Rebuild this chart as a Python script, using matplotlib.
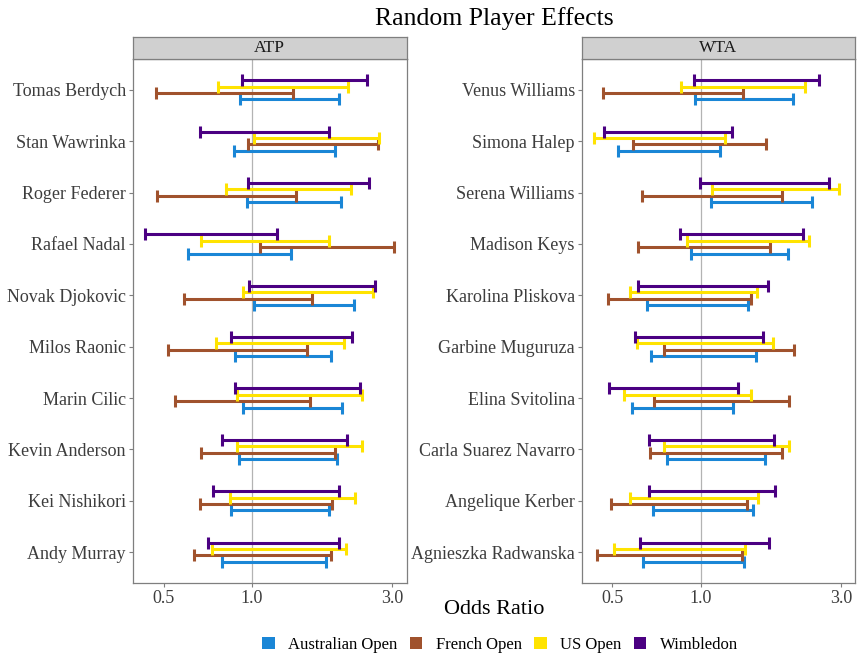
import numpy as np
import matplotlib
matplotlib.use("Agg")
import matplotlib.pyplot as plt
from matplotlib.patches import Patch

plt.rcParams['font.family'] = ['Liberation Serif', 'DejaVu Serif']

tournaments = ["Australian Open", "French Open", "US Open", "Wimbledon"]
colors = ["#1a86d6", "#a0522d", "#ffe300", "#4b0082"]

# players listed bottom -> top
atp_players = ["Andy Murray", "Kei Nishikori", "Kevin Anderson", "Marin Cilic", "Milos Raonic",
               "Novak Djokovic", "Rafael Nadal", "Roger Federer", "Stan Wawrinka", "Tomas Berdych"]
wta_players = ["Agnieszka Radwanska", "Angelique Kerber", "Carla Suarez Navarro", "Elina Svitolina",
               "Garbine Muguruza", "Karolina Pliskova", "Madison Keys", "Serena Williams",
               "Simona Halep", "Venus Williams"]

# lower / upper bounds of odds ratio per tournament, same order as players
atp_ao_lo = [0.789, 0.846, 0.901, 0.934, 0.873, 1.013, 0.605, 0.959, 0.871, 0.908]
atp_ao_hi = [1.783, 1.825, 1.943, 2.020, 1.854, 2.229, 1.352, 2.014, 1.913, 1.982]
atp_fo_lo = [0.634, 0.664, 0.671, 0.548, 0.516, 0.586, 1.067, 0.476, 0.966, 0.470]
atp_fo_hi = [1.863, 1.873, 1.917, 1.580, 1.544, 1.598, 3.047, 1.413, 2.683, 1.384]
atp_us_lo = [0.733, 0.839, 0.891, 0.889, 0.755, 0.932, 0.669, 0.816, 1.018, 0.768]
atp_us_hi = [2.084, 2.241, 2.373, 2.367, 2.052, 2.574, 1.833, 2.177, 2.710, 2.127]
atp_wi_lo = [0.709, 0.739, 0.793, 0.873, 0.846, 0.979, 0.434, 0.972, 0.664, 0.922]
atp_wi_hi = [1.982, 1.973, 2.101, 2.330, 2.190, 2.620, 1.212, 2.494, 1.825, 2.456]

wta_ao_lo = [0.635, 0.689, 0.769, 0.581, 0.678, 0.655, 0.925, 1.087, 0.522, 0.954]
wta_ao_hi = [1.405, 1.507, 1.656, 1.289, 1.543, 1.453, 1.976, 2.398, 1.160, 2.055]
wta_fo_lo = [0.444, 0.494, 0.673, 0.690, 0.751, 0.484, 0.611, 0.629, 0.587, 0.464]
wta_fo_hi = [1.379, 1.441, 1.891, 1.998, 2.072, 1.484, 1.717, 1.896, 1.664, 1.389]
wta_us_lo = [0.508, 0.572, 0.751, 0.546, 0.604, 0.572, 0.894, 1.090, 0.433, 0.853]
wta_us_hi = [1.416, 1.567, 1.998, 1.479, 1.757, 1.555, 2.337, 2.955, 1.210, 2.265]
wta_wi_lo = [0.620, 0.666, 0.666, 0.485, 0.595, 0.609, 0.848, 0.990, 0.469, 0.947]
wta_wi_hi = [1.703, 1.785, 1.777, 1.340, 1.634, 1.699, 2.235, 2.733, 1.279, 2.534]

x_ticks = [0.5, 1.0, 3.0]
x_tick_labels = ["0.5", "1.0", "3.0"]

atp_lo = [atp_ao_lo, atp_fo_lo, atp_us_lo, atp_wi_lo]
atp_hi = [atp_ao_hi, atp_fo_hi, atp_us_hi, atp_wi_hi]
wta_lo = [wta_ao_lo, wta_fo_lo, wta_us_lo, wta_wi_lo]
wta_hi = [wta_ao_hi, wta_fo_hi, wta_us_hi, wta_wi_hi]

allv = np.log(np.concatenate([np.ravel(atp_lo), np.ravel(atp_hi), np.ravel(wta_lo), np.ravel(wta_hi)]))
lo_l, hi_l = allv.min(), allv.max()
pad = 0.05 * (hi_l - lo_l)
xlim = (np.exp(lo_l - pad), np.exp(hi_l + pad))

W, H = 859, 655
fig = plt.figure(figsize=(W / 100, H / 100), dpi=100)

panel_top, panel_bot = 59, 583
strip_top = 37
offsets = [-0.1875, -0.0625, 0.0625, 0.1875]
text_col = "#3d3d3d"

def draw_panel(left_px, right_px, players, los, his, title):
    ax = fig.add_axes([left_px / W, 1 - panel_bot / H, (right_px - left_px) / W, (panel_bot - panel_top) / H])
    ax.axvline(1.0, color="#b3b3b3", lw=0.9, zorder=0)
    y = np.arange(1, len(players) + 1)
    for k in range(4):
        lo = np.array(los[k]); hi = np.array(his[k])
        mid = np.sqrt(lo * hi)
        ax.errorbar(mid, y + offsets[k], xerr=[mid - lo, hi - mid], fmt="none",
                    ecolor=colors[k], elinewidth=2.2, capsize=4.5, capthick=2.2)
    ax.set_xscale("log")
    ax.set_xlim(*xlim)
    ax.set_ylim(0.4, len(players) + 0.6)
    ax.set_xticks(x_ticks)
    ax.set_xticklabels(x_tick_labels)
    ax.xaxis.set_minor_locator(matplotlib.ticker.NullLocator())
    ax.set_yticks(y)
    ax.set_yticklabels(players)
    ax.tick_params(axis="both", colors="#7f7f7f", labelcolor=text_col, labelsize=13, length=3, width=0.8, pad=2)
    for s in ax.spines.values():
        s.set_color("#7f7f7f"); s.set_linewidth(0.9)
    sax = fig.add_axes([left_px / W, 1 - panel_top / H, (right_px - left_px) / W, (panel_top - strip_top) / H])
    sax.set_facecolor("#d0d0d0")
    sax.set_xticks([]); sax.set_yticks([])
    for s in sax.spines.values():
        s.set_color("#7f7f7f"); s.set_linewidth(0.9)
    sax.text(0.5, 0.5, title, ha="center", va="center", fontsize=12.5, color="#1a1a1a", transform=sax.transAxes)
    return ax

draw_panel(132.7, 406.7, atp_players, atp_lo, atp_hi, "ATP")
draw_panel(581.7, 855.3, wta_players, wta_lo, wta_hi, "WTA")

fig.text(494 / W, 1 - 19 / H, "Random Player Effects", ha="center", va="center", fontsize=18.5)
fig.text(494 / W, 1 - 610 / H, "Odds Ratio", ha="center", va="center", fontsize=16)

handles = [Patch(facecolor=c, edgecolor="none") for c in colors]
fig.legend(handles, tournaments, loc="center", bbox_to_anchor=(500 / W, 1 - 645 / H), ncol=4,
           frameon=False, fontsize=12, handlelength=0.75, handleheight=0.75, handletextpad=0.8,
           columnspacing=0.75)

fig.savefig("out.png", dpi=100)
